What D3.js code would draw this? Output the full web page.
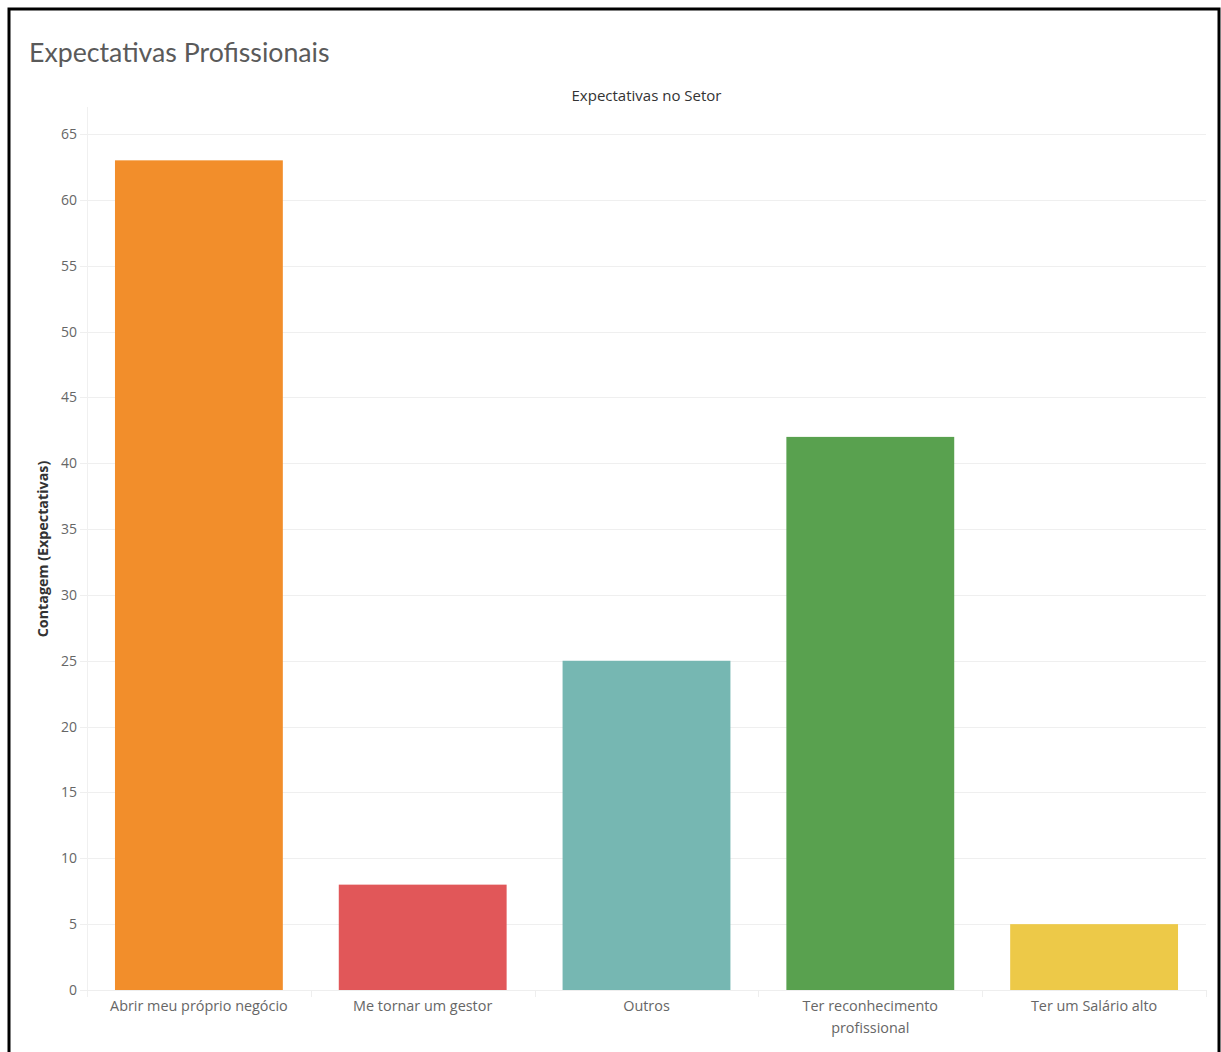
<!DOCTYPE html>
<html>
<head>
<meta charset="utf-8">
<script src="https://cdn.jsdelivr.net/npm/d3@7"></script>
<style>
  html, body { margin: 0; padding: 0; background: #fff; }
  svg { display: block; }
  text { font-family: "Open Sans", Lato, sans-serif; }
</style>
</head>
<body>
<script>
// Chart data
const categories = ["Abrir meu próprio negócio", "Me tornar um gestor", "Outros", "Ter reconhecimento profissional", "Ter um Salário alto"];
const categoryLines = [["Abrir meu próprio negócio"], ["Me tornar um gestor"], ["Outros"], ["Ter reconhecimento", "profissional"], ["Ter um Salário alto"]];
const counts = [63, 8, 25, 42, 5];
const yTicks = [0, 5, 10, 15, 20, 25, 30, 35, 40, 45, 50, 55, 60, 65];
const barColors = ["#F28E2B", "#E15759", "#76B7B2", "#59A14F", "#EDC948"];

const W = 1221, H = 1052;
const svg = d3.select("body").append("svg").attr("width", W).attr("height", H);

// Outer frame
svg.append("rect")
  .attr("x", 9).attr("y", 9).attr("width", W - 11).attr("height", H + 20)
  .attr("fill", "none").attr("stroke", "#000").attr("stroke-width", 3);

// Title
svg.append("text")
  .attr("x", 29).attr("y", 62)
  .attr("font-size", 26.7).attr("fill", "#5a5a5a")
  .style("font-family", "Lato, sans-serif")
  .text("Expectativas Profissionais");

const plotLeft = 87, plotRight = 1206, plotTop = 107, yZero = 990;

const x = d3.scaleBand().domain(categories).range([plotLeft, plotRight])
  .paddingInner(0.25).paddingOuter(0.125);
const y = d3.scaleLinear().domain([0, 65]).range([yZero, 134]);

// Column header
svg.append("text")
  .attr("x", (plotLeft + plotRight) / 2).attr("y", 101)
  .attr("text-anchor", "middle").attr("font-size", 15).attr("fill", "#333")
  .text("Expectativas no Setor");

// Horizontal gridlines
svg.append("g").selectAll("line").data(yTicks).join("line")
  .attr("x1", 80).attr("x2", plotRight)
  .attr("y1", d => Math.round(y(d)) + 0.5).attr("y2", d => Math.round(y(d)) + 0.5)
  .attr("stroke", "#efefef").attr("stroke-width", 1);

// Y axis
const yAxis = svg.append("g").attr("transform", `translate(${plotLeft},0)`)
  .call(d3.axisLeft(y).tickValues(yTicks).tickSize(0).tickPadding(10));
yAxis.select(".domain").remove();
yAxis.selectAll("text").attr("font-size", 14).attr("fill", "#666");

svg.append("line")
  .attr("x1", plotLeft + 0.5).attr("x2", plotLeft + 0.5)
  .attr("y1", plotTop).attr("y2", 997)
  .attr("stroke", "#f0f0f0");

// Y axis title
svg.append("text")
  .attr("transform", `translate(48,549) rotate(-90)`)
  .attr("text-anchor", "middle").attr("font-size", 14.3).attr("font-weight", "bold")
  .attr("fill", "#333")
  .text("Contagem (Expectativas)");

// Bars
svg.append("g").selectAll("rect").data(categories).join("rect")
  .attr("x", d => x(d)).attr("width", x.bandwidth())
  .attr("y", (d, i) => y(counts[i]))
  .attr("height", (d, i) => y(0) - y(counts[i]))
  .attr("fill", (d, i) => barColors[i]);

// X axis baseline and category separators
svg.append("line")
  .attr("x1", 80).attr("x2", plotRight)
  .attr("y1", yZero + 0.5).attr("y2", yZero + 0.5)
  .attr("stroke", "#eeeeee");
const step = x.step();
const seps = d3.range(1, categories.length + 1).map(i => x(categories[0]) - x.paddingOuter() * step + i * step);
svg.append("g").selectAll("line").data(seps).join("line")
  .attr("x1", d => Math.round(d) + 0.5).attr("x2", d => Math.round(d) + 0.5)
  .attr("y1", yZero).attr("y2", 997)
  .attr("stroke", "#eeeeee");

// Category labels
const labels = svg.append("g").selectAll("text").data(categories).join("text")
  .attr("x", d => x(d) + x.bandwidth() / 2)
  .attr("y", 1011)
  .attr("text-anchor", "middle").attr("font-size", 14.4).attr("fill", "#666");
labels.each(function(d, i) {
  d3.select(this).selectAll("tspan").data(categoryLines[i]).join("tspan")
    .attr("x", x(d) + x.bandwidth() / 2)
    .attr("dy", (t, j) => j === 0 ? 0 : 22)
    .text(t => t);
});
</script>
</body>
</html>
